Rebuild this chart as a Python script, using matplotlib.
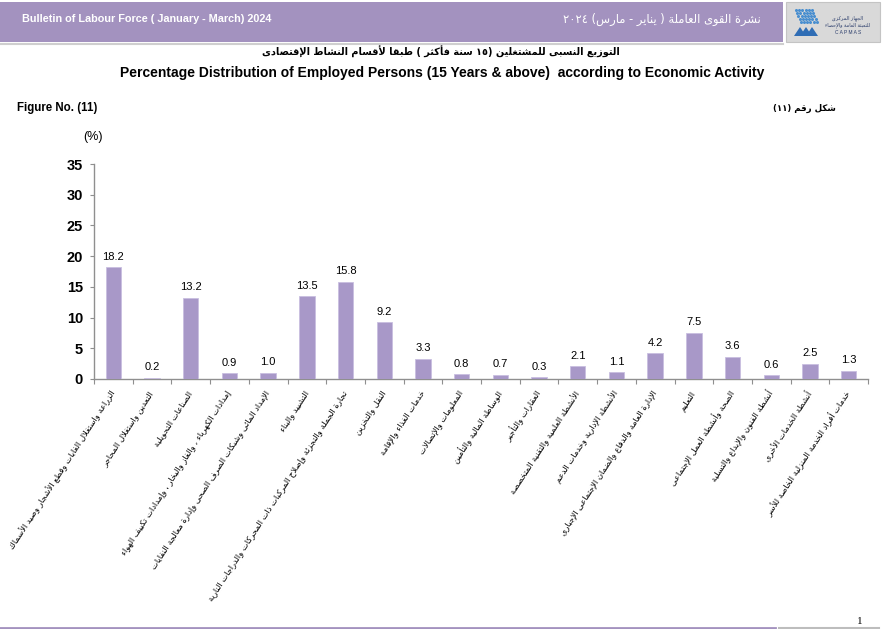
"""
Percentage distribution of employed persons by economic activity (CAPMAS bulletin, Q1 2024)
"""

import numpy as np
import matplotlib
matplotlib.use('Agg')
import matplotlib.pyplot as plt
from matplotlib.patches import Rectangle
from matplotlib.lines import Line2D

# ---- data ----
values = [18.2, 0.2, 13.2, 0.9, 1.0, 13.5, 15.8, 9.2, 3.3, 0.8,
          0.7, 0.3, 2.1, 1.1, 4.2, 7.5, 3.6, 0.6, 2.5, 1.3]

categories = [
    "الزراعة واستغلال الغابات وقطع الأشجار وصيد الأسماك",
    "التعدين واستغلال المحاجر",
    "الصناعات التحويلية",
    "إمدادات الكهرباء ، والغاز والبخار ، وإمدادات تكييف الهواء",
    "الإمداد المائى وشبكات الصرف الصحى وإدارة معالجة النفايات",
    "التشييد والبناء",
    "تجارة الجملة والتجزئة وإصلاح المركبات ذات المحركات والدراجات النارية",
    "النقل والتخزين",
    "خدمات الغذاء والإقامة",
    "المعلومات والإتصالات",
    "الوساطة المالية والتأمين",
    "العقارات والتأجير",
    "الأنشطة العلمية والتقنية المتخصصة",
    "الأنشطة الإدارية وخدمات الدعم",
    "الإدارة العامة والدفاع والضمان الإجتماعى الإجبارى",
    "التعليم",
    "الصحة وأنشطة العمل الإجتماعى",
    "أنشطة الفنون والإبداع والتسلية",
    "أنشطة الخدمات الأخرى",
    "خدمات أفراد الخدمة المنزلية الخاصة للأسر",
]

y_ticks = [0, 5, 10, 15, 20, 25, 30, 35]

header_en = "Bulletin of Labour Force ( January - March) 2024"
header_ar = "نشرة القوى العاملة ( يناير - مارس) ٢٠٢٤"
title_ar = "التوزيع النسبى للمشتغلين (١٥ سنة فأكثر ) طبقا لأقسام النشاط الإقتصادى"
title_en = "Percentage Distribution of Employed Persons (15 Years & above)  according to Economic Activity"
fig_en = "Figure No. (11)"
fig_ar = "شكل رقم (١١)"

# ---- minimal arabic shaping (matplotlib has no text shaping) ----
# letter -> (isolated presentation form, number of forms)
FORMS = {
    'ء': (0xFE80, 1), 'آ': (0xFE81, 2), 'أ': (0xFE83, 2), 'ؤ': (0xFE85, 2),
    'إ': (0xFE87, 2), 'ئ': (0xFE89, 4), 'ا': (0xFE8D, 2), 'ب': (0xFE8F, 4),
    'ة': (0xFE93, 2), 'ت': (0xFE95, 4), 'ث': (0xFE99, 4), 'ج': (0xFE9D, 4),
    'ح': (0xFEA1, 4), 'خ': (0xFEA5, 4), 'د': (0xFEA9, 2), 'ذ': (0xFEAB, 2),
    'ر': (0xFEAD, 2), 'ز': (0xFEAF, 2), 'س': (0xFEB1, 4), 'ش': (0xFEB5, 4),
    'ص': (0xFEB9, 4), 'ض': (0xFEBD, 4), 'ط': (0xFEC1, 4), 'ظ': (0xFEC5, 4),
    'ع': (0xFEC9, 4), 'غ': (0xFECD, 4), 'ف': (0xFED1, 4), 'ق': (0xFED5, 4),
    'ك': (0xFED9, 4), 'ل': (0xFEDD, 4), 'م': (0xFEE1, 4), 'ن': (0xFEE5, 4),
    'ه': (0xFEE9, 4), 'و': (0xFEED, 2), 'ى': (0xFEEF, 2), 'ي': (0xFEF1, 4),
}
LAM_ALEF = {'آ': 0xFEF5, 'أ': 0xFEF7, 'إ': 0xFEF9, 'ا': 0xFEFB}
MIRROR = {'(': ')', ')': '('}


def shape_ar(text):
    chars = list(text)
    out = []
    i = 0
    n = len(chars)

    def joins_left(c):
        return c in FORMS and FORMS[c][1] == 4

    while i < n:
        c = chars[i]
        prev = chars[i - 1] if i > 0 else ''
        prev_conn = joins_left(prev)
        if c == 'ل' and i + 1 < n and chars[i + 1] in LAM_ALEF:
            base = LAM_ALEF[chars[i + 1]]
            out.append(chr(base + (1 if prev_conn else 0)))
            i += 2
            continue
        if c in FORMS:
            base, nforms = FORMS[c]
            nxt = chars[i + 1] if i + 1 < n else ''
            next_conn = nforms == 4 and nxt in FORMS
            if nforms == 1:
                form = 0
            elif prev_conn and next_conn:
                form = 3
            elif prev_conn:
                form = 1
            elif next_conn:
                form = 2
            else:
                form = 0
            out.append(chr(base + form))
        else:
            out.append(c)
        i += 1

    # visual order: reverse, but keep digit / latin runs left-to-right
    tokens = []
    for ch in out:
        ltr = ch.isdigit() or ch.isascii() and ch.isalpha()
        if ltr and tokens and tokens[-1][0]:
            tokens[-1][1].append(ch)
        else:
            tokens.append((ltr, [MIRROR.get(ch, ch)]))
    return ''.join(''.join(t[1]) for t in reversed(tokens))


AR_FONT = ['DejaVu Sans']
EN_FONT = ['Liberation Sans', 'DejaVu Sans']

bar_color = '#A898C8'
band_color = '#A392BF'
axis_gray = '#8f8f8f'

W, H = 883, 629
fig = plt.figure(figsize=(W / 100, H / 100), dpi=100, facecolor='white')


def fx(px):
    return px / W


def fy(py):
    return 1 - py / H


# ---- header band ----
fig.patches.append(Rectangle((0, fy(42)), fx(783), 40 / H, transform=fig.transFigure,
                             facecolor=band_color, edgecolor='none', zorder=0))
fig.add_artist(Line2D([0, fx(783)], [fy(43.5), fy(43.5)], transform=fig.transFigure,
                      color='#cfcfcf', lw=1.5))
fig.patches.append(Rectangle((fx(786), fy(42)), fx(94), 40 / H, transform=fig.transFigure,
                             facecolor='#d9d9d9', edgecolor='#c4c4c4', lw=0.8, zorder=0))
# logo approximation
gx, gy = np.meshgrid(np.arange(6), np.arange(5))
dots_x = 796 + gx.ravel() * 3.2 + gy.ravel() * 1.2
dots_y = 10 + gy.ravel() * 3.0
fig.add_artist(Line2D(fx(dots_x), fy(dots_y), transform=fig.transFigure, ls='none',
                      marker='o', ms=1.2, color='#4a8fd0'))
for k in range(3):
    tri_x = np.array([794, 800, 806]) + k * 6
    fig.patches.append(plt.Polygon(list(zip(fx(tri_x), fy(np.array([36, 27, 36])))),
                                   closed=True, transform=fig.transFigure,
                                   facecolor='#2f6db5', edgecolor='none'))
fig.text(fx(848), fy(18), shape_ar("الجهاز المركزى"), fontsize=3.5, family=AR_FONT,
         color='#2b3d6b', ha='center', va='center')
fig.text(fx(848), fy(25), shape_ar("للتعبئة العامة والإحصاء"), fontsize=3.5, family=AR_FONT,
         color='#2b3d6b', ha='center', va='center')
fig.text(fx(848), fy(33), "C A P M A S", fontsize=3.5, family=EN_FONT,
         color='#2b3d6b', ha='center', va='center')

fig.text(fx(22), fy(19), header_en, fontsize=7.8, fontweight='bold', color='white',
         family=['Liberation Sans Narrow', 'Liberation Sans'], ha='left', va='center')
fig.text(fx(761), fy(19), shape_ar(header_ar), fontsize=8.3, color='white',
         family=AR_FONT, ha='right', va='center')

# ---- titles ----
fig.text(fx(441), fy(52), shape_ar(title_ar), fontsize=7, fontweight='bold',
         family=AR_FONT, ha='center', va='center')
fig.text(fx(442), fy(73), title_en, fontsize=10, fontweight='bold',
         family=EN_FONT, ha='center', va='center')
fig.text(fx(17), fy(108), fig_en, fontsize=8.3, fontweight='bold',
         family=EN_FONT, ha='left', va='center')
fig.text(fx(836), fy(108), shape_ar(fig_ar), fontsize=6.2, fontweight='bold',
         family=AR_FONT, ha='right', va='center')
fig.text(fx(93), fy(137), "(%)", fontsize=9, family=EN_FONT, ha='center', va='center')

# ---- chart ----
ax = fig.add_axes([fx(94), fy(379), fx(868 - 94), (379 - 164) / H])
x = np.arange(len(values))
bars = ax.bar(x, values, width=0.4, color=bar_color, edgecolor='#c9bfe0', linewidth=0.6, zorder=3)
for xi, v in zip(x, values):
    ax.annotate(f"{v:.1f}", (xi, v), xytext=(0, 4), textcoords='offset points',
                ha='center', va='bottom', fontsize=8, family=EN_FONT)

ax.set_xlim(-0.5, len(values) - 0.5)
ax.set_ylim(0, 35)
ax.set_yticks(y_ticks)
ax.set_yticklabels([str(t) for t in y_ticks], fontsize=10.5, fontweight='bold', family=EN_FONT)
ax.tick_params(axis='y', length=3, width=0.8, color=axis_gray, pad=5)

ax.set_xticks(x)
ax.set_xticklabels([shape_ar(c) for c in categories], rotation=57, ha='right', va='center',
                   rotation_mode='anchor', fontsize=6, family=AR_FONT)
ax.set_xticks(np.arange(len(values) + 1) - 0.5, minor=True)
ax.tick_params(axis='x', which='major', length=0, pad=9)
ax.tick_params(axis='x', which='minor', length=3.5, width=0.8, color=axis_gray)

for side in ['top', 'right']:
    ax.spines[side].set_visible(False)
for side in ['left', 'bottom']:
    ax.spines[side].set_color(axis_gray)
    ax.spines[side].set_linewidth(1.0)

# ---- footer ----
fig.add_artist(Line2D([0, fx(775)], [fy(628), fy(628)], transform=fig.transFigure,
                      color=band_color, lw=2))
fig.add_artist(Line2D([fx(779), fx(879)], [fy(628), fy(628)], transform=fig.transFigure,
                      color='#bdbdbd', lw=1.5))
fig.text(fx(860), fy(621), "1", fontsize=8, family=['Liberation Serif'], ha='center', va='center')

fig.savefig('out.png', dpi=100, facecolor='white')
